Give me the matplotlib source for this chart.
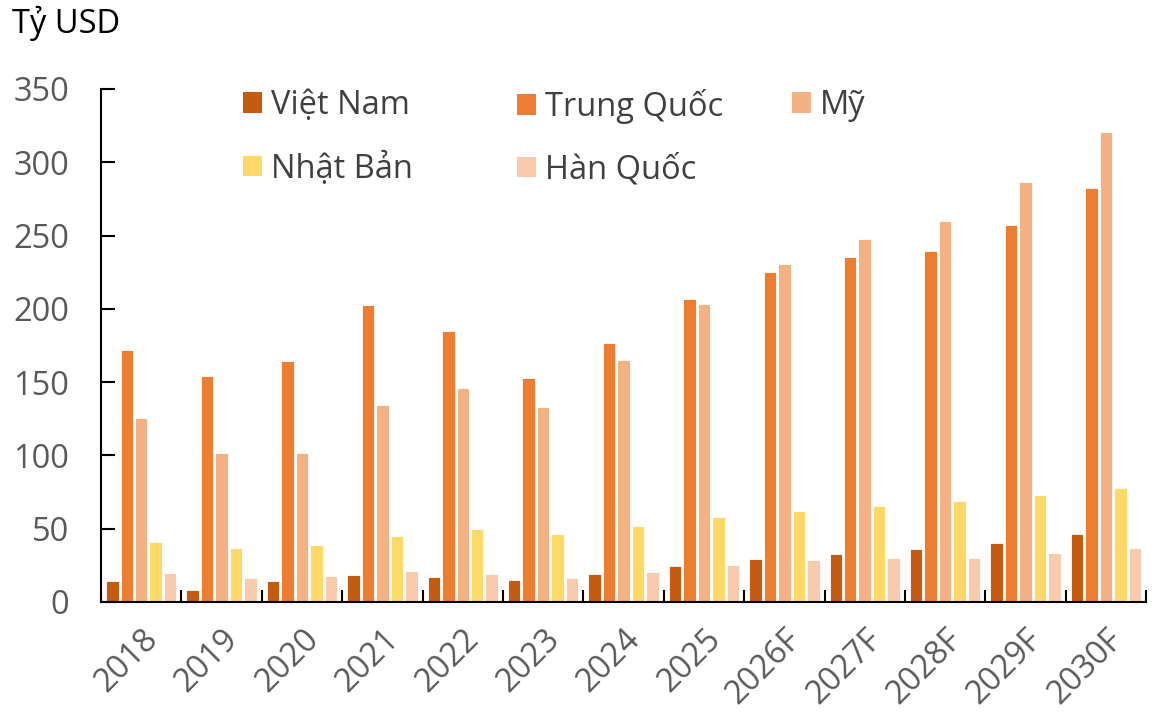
import numpy as np
import matplotlib.pyplot as plt
from matplotlib.patches import Patch

plt.rcParams['font.family'] = ['Open Sans', 'Noto Sans', 'DejaVu Sans']

years = ["2018", "2019", "2020", "2021", "2022", "2023", "2024", "2025",
         "2026F", "2027F", "2028F", "2029F", "2030F"]
series = ["Việt Nam", "Trung Quốc", "Mỹ", "Nhật Bản", "Hàn Quốc"]
viet_nam = [14.6, 8.4, 14.1, 18.2, 17.1, 15.0, 18.9, 24.3, 29.1, 33.0, 35.9, 40.5, 46.4]
trung_quoc = [171.8, 154.4, 164.5, 202.6, 184.9, 152.6, 176.7, 206.7, 224.9, 235.2, 239.7, 257.4, 282.6]
my = [125.8, 101.4, 101.4, 134.2, 146.0, 133.0, 165.1, 203.3, 230.8, 247.9, 260.0, 286.5, 320.6]
nhat_ban = [40.8, 36.8, 38.9, 45.0, 49.8, 46.6, 51.9, 58.0, 62.1, 65.5, 68.7, 72.8, 77.6]
han_quoc = [20.0, 16.2, 17.5, 21.1, 19.1, 16.6, 20.5, 25.5, 28.7, 29.8, 30.2, 33.2, 36.8]
colors = ["#C55A11", "#ED7D31", "#F4B183", "#FFD966", "#F8CBAD"]

FS = 23.5

fig = plt.figure(figsize=(11.6, 7.13), dpi=100)
ax = fig.add_axes([0.0871, 0.1557, 0.9009, 0.7195])

x = np.arange(len(years)) + 0.5
w = 0.155
data = [viet_nam, trung_quoc, my, nhat_ban, han_quoc]
for i, vals in enumerate(data):
    ax.bar(x + (i - 2) * 0.18, vals, width=w, color=colors[i],
           edgecolor="white", linewidth=0.6, label=series[i])

ax.set_xlim(0, len(years))
ax.set_ylim(0, 350)
ax.set_yticks(np.arange(0, 351, 50))
ax.set_xticks(np.arange(0, len(years) + 1))
ax.set_xticklabels([])
ax.set_xticks(x, minor=True)
ax.set_xticklabels(years, minor=True, rotation=45, ha="right", rotation_mode="anchor")
ax.tick_params(axis="x", which="major", direction="in", length=9, width=1.5)
ax.tick_params(axis="x", which="minor", length=0, pad=15, labelsize=FS, labelcolor="#595959")
ax.tick_params(axis="y", direction="in", length=10, width=1.5, pad=23,
               labelsize=FS, labelcolor="#595959")

for s in ["top", "right"]:
    ax.spines[s].set_visible(False)
for s in ["left", "bottom"]:
    ax.spines[s].set_linewidth(1.5)
    ax.spines[s].set_color("black")

fig.text(12 / 1160, 1 - 23 / 713, "Tỷ USD", fontsize=FS, color="black", va="center", ha="left")

def make_legend(idx, xpix):
    handles = [Patch(facecolor=colors[i], edgecolor="none") for i in idx]
    labels = [series[i] for i in idx]
    leg = fig.legend(handles, labels, loc="upper left",
                     bbox_to_anchor=(xpix / 1160, 1 - 89 / 713),
                     frameon=False, fontsize=FS, handlelength=0.58, handleheight=0.58,
                     handletextpad=0.28, labelspacing=0.9, borderpad=0, borderaxespad=0,
                     labelcolor="#404040")
    return leg

make_legend([0, 3], 243)
make_legend([1, 4], 517)
make_legend([2], 792)

fig.savefig("out.png", dpi=100)
